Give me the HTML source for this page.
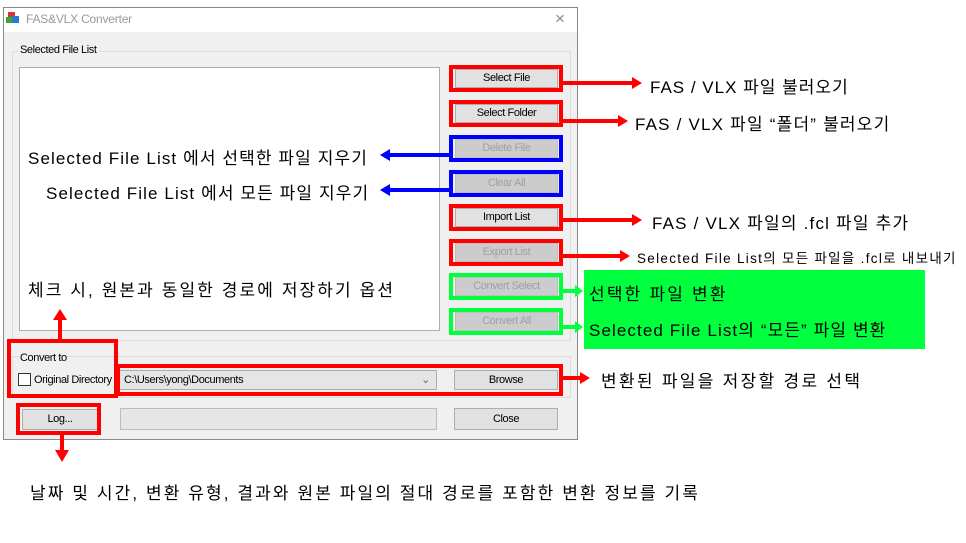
<!DOCTYPE html>
<html><head><meta charset="utf-8">
<style>
*{margin:0;padding:0;box-sizing:border-box}
body{width:966px;height:543px;background:#fff;position:relative;overflow:hidden;font-family:"Liberation Sans","Noto Sans CJK KR",sans-serif}
.a{position:absolute}
.ui{font-size:11px;letter-spacing:-0.4px;color:#000}
.btn{position:absolute;background:#e1e1e1;border:1px solid #adadad;font-size:11px;letter-spacing:-0.4px;text-align:center;line-height:17px;color:#000}
.dis{color:#a0a0a0;background:#cccccc;border-color:#bfbfbf}
.r{position:absolute;border:4px solid #ff0000}
.b{position:absolute;border:4px solid #0000ff}
.g{position:absolute;border:4px solid #00ff3c}
.t{position:absolute;font-size:17px;color:#000;white-space:nowrap;font-family:"Liberation Sans","Noto Sans CJK KR",sans-serif}
</style></head><body>
<div class="a" style="left:3px;top:7px;width:575px;height:433px;border:1px solid #8a8a8a;background:#f0f0f0"></div>
<div class="a" style="left:4px;top:8px;width:573px;height:24px;background:#fff"></div>
<div class="a" style="left:8px;top:12px;width:7px;height:7px;background:#d33"></div>
<div class="a" style="left:12px;top:16px;width:7px;height:7px;background:#2a7ad8"></div>
<div class="a" style="left:6px;top:17px;width:6px;height:6px;background:#3a3"></div>
<div class="a" style="left:26px;top:12px;font-size:12px;color:#999;letter-spacing:-0.2px">FAS&amp;VLX Converter</div>
<div class="a" style="left:555px;top:9px;font-size:17px;color:#888">×</div>
<div class="a" style="left:12px;top:51px;width:559px;height:290px;border:1px solid #dcdcdc"></div>
<div class="a ui" style="left:18px;top:44px;background:#f0f0f0;padding:0 2px">Selected File List</div>
<div class="a" style="left:19px;top:67px;width:421px;height:264px;background:#fff;border:1px solid #adadad"></div>
<div class="btn" style="left:455px;top:69px;width:103px;height:19px">Select File</div>
<div class="btn" style="left:455px;top:104px;width:103px;height:19px">Select Folder</div>
<div class="btn dis" style="left:455px;top:139px;width:103px;height:19px">Delete File</div>
<div class="btn dis" style="left:455px;top:174px;width:103px;height:19px">Clear All</div>
<div class="btn" style="left:455px;top:208px;width:103px;height:19px">Import List</div>
<div class="btn dis" style="left:455px;top:243px;width:103px;height:19px">Export List</div>
<div class="btn dis" style="left:455px;top:277px;width:103px;height:19px">Convert Select</div>
<div class="btn dis" style="left:455px;top:312px;width:103px;height:19px">Convert All</div>
<div class="r" style="left:449px;top:65px;width:114px;height:27px"></div>
<div class="r" style="left:449px;top:100px;width:114px;height:27px"></div>
<div class="b" style="left:449px;top:135px;width:114px;height:27px"></div>
<div class="b" style="left:449px;top:170px;width:114px;height:27px"></div>
<div class="r" style="left:449px;top:204px;width:114px;height:27px"></div>
<div class="r" style="left:449px;top:239px;width:114px;height:27px"></div>
<div class="g" style="left:449px;top:273px;width:114px;height:27px"></div>
<div class="g" style="left:449px;top:308px;width:114px;height:27px"></div>
<div class="a" style="left:12px;top:356px;width:559px;height:42px;border:1px solid #dcdcdc"></div>
<div class="a ui" style="left:20px;top:352px;background:#f0f0f0">Convert to</div>
<div class="a" style="left:18px;top:373px;width:13px;height:13px;border:1px solid #333;background:#fff"></div>
<div class="a ui" style="left:34px;top:374px">Original Directory</div>
<div class="a ui" style="left:119px;top:370px;width:318px;height:20px;border:1px solid #adadad;background:#e5e5e5;padding:3px 4px">C:\Users\yong\Documents<span style="position:absolute;right:6px;top:2px;color:#666">⌄</span></div>
<div class="btn" style="left:454px;top:370px;width:104px;height:20px;line-height:18px">Browse</div>
<div class="r" style="left:7px;top:339px;width:111px;height:59px"></div>
<div class="r" style="left:116px;top:364px;width:447px;height:32px"></div>
<div class="btn" style="left:22px;top:409px;width:76px;height:21px;line-height:19px">Log...</div>
<div class="a" style="left:120px;top:408px;width:317px;height:22px;border:1px solid #bcbcbc;background:#e6e6e6"></div>
<div class="btn" style="left:454px;top:408px;width:104px;height:22px;line-height:20px">Close</div>
<div class="r" style="left:16px;top:403px;width:85px;height:32px"></div>
<svg class="a" style="left:0;top:0" width="966" height="543">
<g fill="#ff0000" stroke="#ff0000" stroke-width="4">
<line x1="563" y1="83" x2="634" y2="83"/><polygon stroke-width="0" points="632,77 642,83 632,89"/>
<line x1="563" y1="121" x2="620" y2="121"/><polygon stroke-width="0" points="618,115 628,121 618,127"/>
<line x1="563" y1="220" x2="634" y2="220"/><polygon stroke-width="0" points="632,214 642,220 632,226"/>
<line x1="563" y1="256" x2="622" y2="256"/><polygon stroke-width="0" points="620,250 630,256 620,262"/>
<line x1="563" y1="378" x2="582" y2="378"/><polygon stroke-width="0" points="580,372 590,378 580,384"/>
<line x1="60" y1="339" x2="60" y2="318"/><polygon stroke-width="0" points="53,320 60,309 67,320"/>
<line x1="62" y1="435" x2="62" y2="452"/><polygon stroke-width="0" points="55,450 62,462 69,450"/>
</g>
<g fill="#0000ff" stroke="#0000ff" stroke-width="4">
<line x1="449" y1="155" x2="388" y2="155"/><polygon stroke-width="0" points="390,149 380,155 390,161"/>
<line x1="449" y1="190" x2="388" y2="190"/><polygon stroke-width="0" points="390,184 380,190 390,196"/>
</g>
<g fill="#00ff3c" stroke="#00ff3c" stroke-width="4">
<line x1="563" y1="291" x2="576" y2="291"/><polygon stroke-width="0" points="575,285 583,291 575,297"/>
<line x1="563" y1="327" x2="576" y2="327"/><polygon stroke-width="0" points="575,321 583,327 575,333"/>
</g>
</svg>
<div class="a" style="left:584px;top:270px;width:341px;height:79px;background:#00ff3c"></div>
<div class="t" style="left:650px;top:73px;letter-spacing:1px">FAS / VLX 파일 불러오기</div>
<div class="t" style="left:635px;top:110px;letter-spacing:1.2px">FAS / VLX 파일 “폴더” 불러오기</div>
<div class="t" style="left:28px;top:144px;letter-spacing:1.1px">Selected File List 에서 선택한 파일 지우기</div>
<div class="t" style="left:46px;top:179px;letter-spacing:1.1px">Selected File List 에서 모든 파일 지우기</div>
<div class="t" style="left:652px;top:209px;letter-spacing:1.2px">FAS / VLX 파일의 .fcl 파일 추가</div>
<div class="t" style="left:637px;top:247px;font-size:13.5px;letter-spacing:1.3px">Selected File List의 모든 파일을 .fcl로 내보내기</div>
<div class="t" style="left:28px;top:276px;letter-spacing:2.1px">체크 시, 원본과 동일한 경로에 저장하기 옵션</div>
<div class="t" style="left:589px;top:280px;letter-spacing:2.2px">선택한 파일 변환</div>
<div class="t" style="left:589px;top:316px;letter-spacing:1.1px">Selected File List의 “모든” 파일 변환</div>
<div class="t" style="left:601px;top:367px;letter-spacing:2.3px">변환된 파일을 저장할 경로 선택</div>
<div class="t" style="left:30px;top:479px;letter-spacing:2.1px">날짜 및 시간, 변환 유형, 결과와 원본 파일의 절대 경로를 포함한 변환 정보를 기록</div>
</body></html>
